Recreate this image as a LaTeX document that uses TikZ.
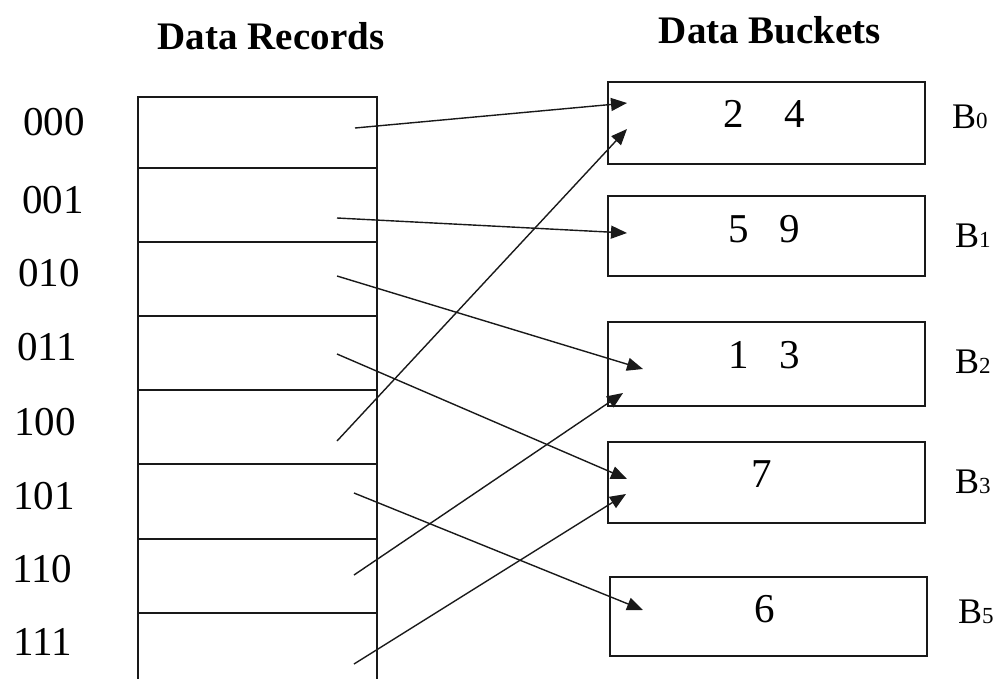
\documentclass[tikz,border=0pt]{standalone}
\usepackage{fontspec}
\setmainfont{Liberation Serif}
\usetikzlibrary{arrows.meta}
\newcommand{\bsub}[1]{{\fontsize{23}{26}\selectfont #1}}
\begin{document}
\begin{tikzpicture}[x=1pt,y=-1pt,
  rowbox/.style={draw=black!90,line width=1.8pt,minimum width=239pt,inner sep=0pt,anchor=north west},
  bucket/.style={draw=black!90,line width=1.8pt,inner sep=0pt,anchor=north west},
  lbl/.style={font=\fontsize{41}{48}\selectfont,inner sep=0pt,anchor=base west},
  num/.style={font=\fontsize{41}{48}\selectfont,inner sep=0pt,anchor=base},
  bname/.style={font=\fontsize{36}{44}\selectfont,inner sep=0pt,anchor=base west},
  ttl/.style={font=\fontsize{39}{46}\selectfont\bfseries,inner sep=0pt,anchor=base},
  conn/.style={draw=black!90,line width=1.4pt,-{Triangle[length=16pt,width=13pt]}}]
\useasboundingbox (0,0) rectangle (995,678);
\clip (0,0) rectangle (995,678);
% titles
\node[ttl] (t1) at (271,49) {Data Records};
\node[ttl] (t2) at (770,43) {Data Buckets};
% table rows
\node[rowbox,minimum height=71pt] (r0) at (137,96) {};
\node[rowbox,minimum height=74pt] (r1) at (137,167) {};
\node[rowbox,minimum height=74pt] (r2) at (137,241) {};
\node[rowbox,minimum height=74pt] (r3) at (137,315) {};
\node[rowbox,minimum height=74pt] (r4) at (137,389) {};
\node[rowbox,minimum height=75pt] (r5) at (137,463) {};
\node[rowbox,minimum height=74pt] (r6) at (137,538) {};
\node[rowbox,minimum height=90pt] (r7) at (137,612) {};
% row labels
\node[lbl] (l0) at (23,135) {000};
\node[lbl] (l1) at (22,213) {001};
\node[lbl] (l2) at (18,286) {010};
\node[lbl] (l3) at (17,360) {011};
\node[lbl] (l4) at (14,435) {100};
\node[lbl] (l5) at (13,509) {101};
\node[lbl] (l6) at (12,582) {110};
\node[lbl] (l7) at (13,655) {111};
% buckets
\node[bucket,minimum width=317pt,minimum height=82pt] (b0) at (607,81) {};
\node[bucket,minimum width=317pt,minimum height=80pt] (b1) at (607,195) {};
\node[bucket,minimum width=317pt,minimum height=84pt] (b2) at (607,321) {};
\node[bucket,minimum width=317pt,minimum height=81pt] (b3) at (607,441) {};
\node[bucket,minimum width=317pt,minimum height=79pt] (b5) at (609,576) {};
% bucket contents
\node[num] (n0) at (764,127) {2\hspace{1em}4};
\node[num] (n1) at (764,242) {5\hspace{0.75em}9};
\node[num] (n2) at (764,368) {1\hspace{0.75em}3};
\node[num] (n3) at (762,487) {7};
\node[num] (n5) at (765,622) {6};
% bucket names
\node[bname] (m0) at (952,128) {B\bsub{0}};
\node[bname] (m1) at (955,247) {B\bsub{1}};
\node[bname] (m2) at (955,373) {B\bsub{2}};
\node[bname] (m3) at (955,493) {B\bsub{3}};
\node[bname] (m5) at (958,623) {B\bsub{5}};
% connector ends
\coordinate (s0) at (355,128);
\coordinate (s1) at (337,218);
\coordinate (s2) at (337,276);
\coordinate (s3) at (337,354);
\coordinate (s4) at (337,441);
\coordinate (s5) at (354,493);
\coordinate (s6) at (354,575);
\coordinate (s7) at (354,664);
\coordinate (e0) at (627,103);
\coordinate (e1) at (627,233);
\coordinate (e2) at (643,369);
\coordinate (e3) at (627,479);
\coordinate (e4) at (627,129);
\coordinate (e5) at (643,610);
\coordinate (e6) at (623,393);
\coordinate (e7) at (626,494);
\draw[conn] (s0) -- (e0);
\draw[conn] (s1) -- (e1);
\draw[conn] (s2) -- (e2);
\draw[conn] (s3) -- (e3);
\draw[conn] (s4) -- (e4);
\draw[conn] (s5) -- (e5);
\draw[conn] (s6) -- (e6);
\draw[conn] (s7) -- (e7);
\end{tikzpicture}
\end{document}
